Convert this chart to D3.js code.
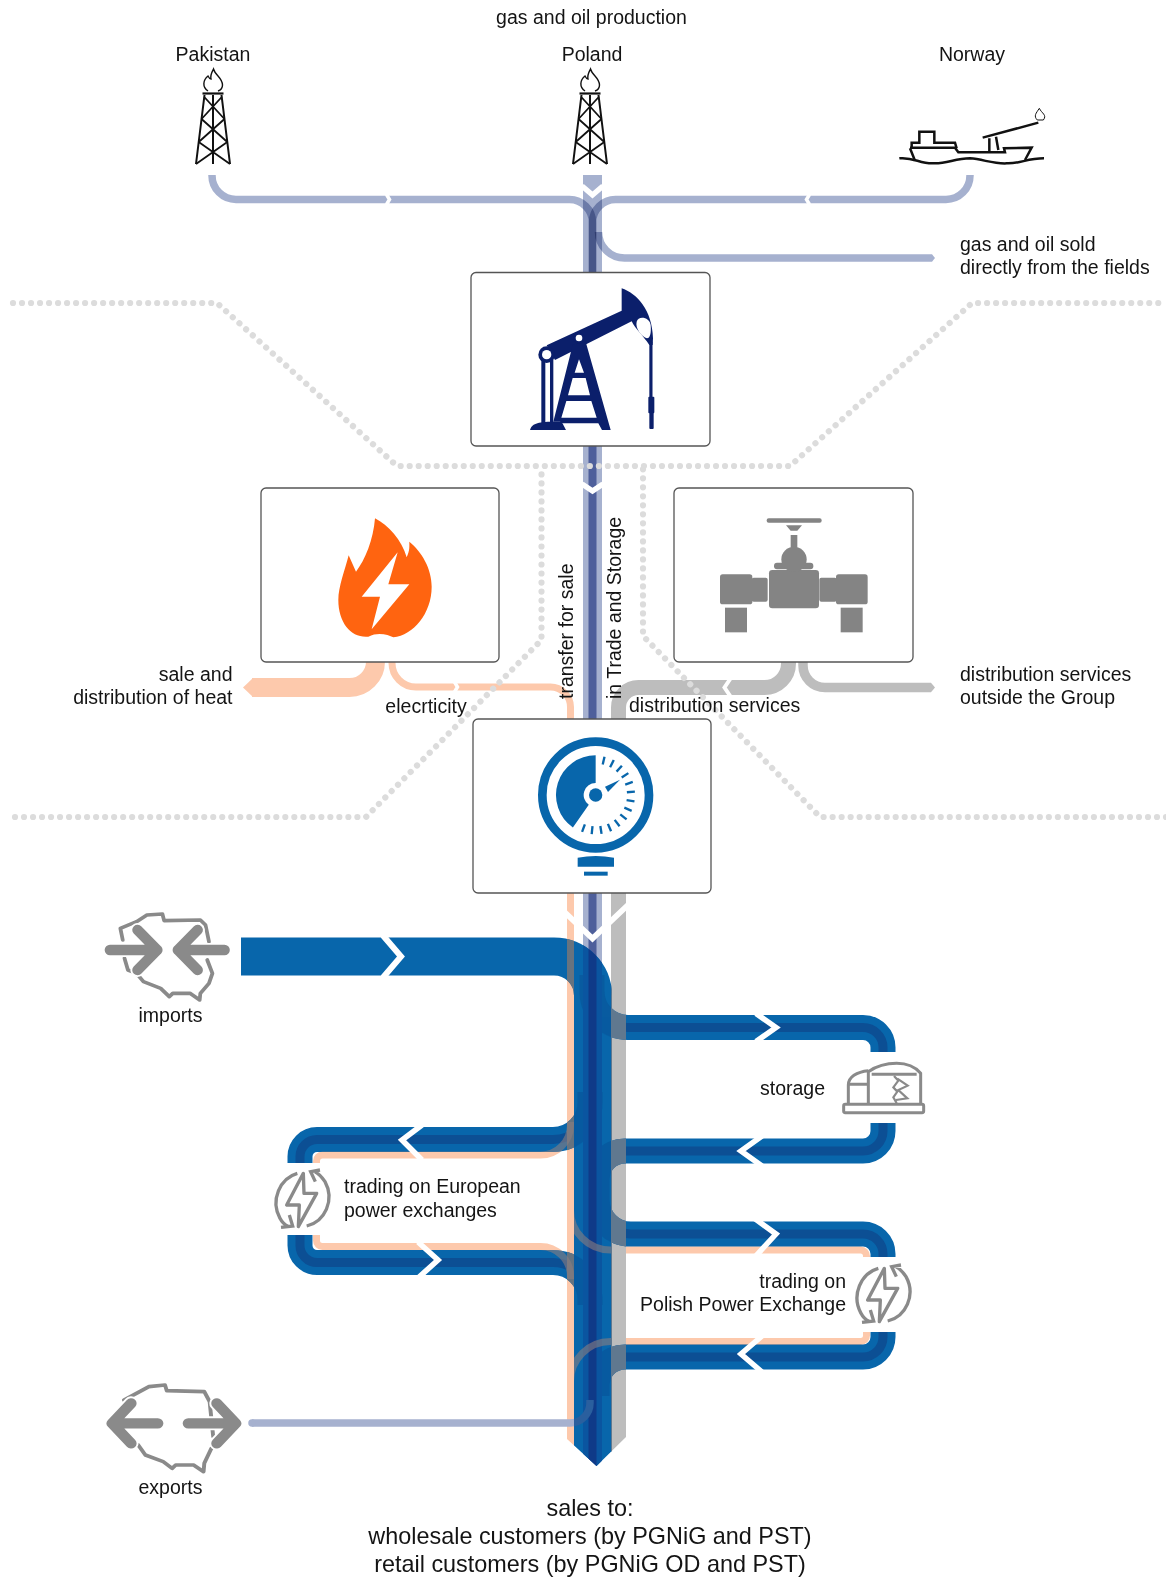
<!DOCTYPE html>
<html><head><meta charset="utf-8">
<script src="https://cdn.jsdelivr.net/npm/d3@7/dist/d3.min.js"></script>
<style>html,body{margin:0;background:#fff}svg{display:block}text{font-family:"Liberation Sans",Arial,sans-serif;fill:#141414}</style>
</head><body><svg id="c" width="1166" height="1577"></svg>
<script>
// ---------- content ----------
const headerLabel = "gas and oil production";
const sourceNames = ["Pakistan", "Poland", "Norway"];
const flowNames = ["production","soldDirect","main","mainCore","heat","electricity","distribution","distributionOut","imports","loop","loopCore","exports","transfer"];
const flowValues = [7.5, 7.5, 19, 8, 19, 7, 15, 9.5, 38, 25, 9, 7.5, 7];
const salesLines = ["sales to:", "wholesale customers (by PGNiG and PST)", "retail customers (by PGNiG OD and PST)"];
const sideLabels = ["gas and oil sold","directly from the fields","sale and","distribution of heat","elecrticity","distribution services","distribution services","outside the Group","imports","exports","storage","trading on European","power exchanges","trading on","Polish Power Exchange"];
const verticalLabels = ["transfer for sale", "in Trade and Storage"];

// ---------- palette ----------
const LAV="#a6b1cf", LAVD="#4e5f9b", PEACH="#fdc9ac", GREY="#bdbdbd", BLUE="#0866ab", BAND="#0c4f94", ICON="#8a8a8a";
const flow = new Map(d3.zip(flowNames, flowValues));
const w = d3.scaleLinear().domain([0,38]).range([0,38]);
const W = n => w(flow.get(n));

const svg = d3.select("#c"), defs = svg.append("defs");

// rounded route through corner points [x,y,r]
function route(pts){
  const p = d3.path(); p.moveTo(pts[0][0],pts[0][1]);
  for(let i=1;i<pts.length;i++){
    const a=pts[i];
    if(a[2]&&pts[i+1]) p.arcTo(a[0],a[1],pts[i+1][0],pts[i+1][1],a[2]); else p.lineTo(a[0],a[1]);
  }
  return p.toString();
}
function pipe(g,pts,width,color,extra){
  const s=g.append("path").attr("d",route(pts)).attr("fill","none").attr("stroke",color).attr("stroke-width",width);
  if(extra) Object.entries(extra).forEach(([k,v])=>s.style(k,v));
  return s;
}
const poly = d3.line();
function chevron(g,tipX,tipY,dx,dy1,dy2,sw){
  g.append("path").attr("d",poly([[tipX-dx,tipY-dy1],[tipX,tipY],[tipX-dx,tipY+(dy2==null?dy1:dy2)]]))
   .attr("fill","none").attr("stroke","#fff").attr("stroke-width",sw||5.5);
}
function vchev(g,cx,tipY,dx,dy,sw){
  g.append("path").attr("d",poly([[cx-dx,tipY-dy],[cx,tipY],[cx+dx,tipY-dy]])).attr("fill","none").attr("stroke","#fff").attr("stroke-width",sw||5.5);
}
function label(x,y,t,anchor,size){
  return svg.append("text").attr("x",x).attr("y",y).attr("text-anchor",anchor||"start").attr("font-size",size||19.5).text(t);
}

// ---------- upper flows ----------
const upper = svg.append("g").style("isolation","isolate");
const mult={"mix-blend-mode":"multiply"};
const mainX=592.5;
pipe(upper,[[mainX,175],[mainX,446]],W("main"),LAV,mult);
pipe(upper,[[212,175],[212,199.5,24],[592.5,199.5,23],[592.5,272]],W("production"),LAV,mult);
pipe(upper,[[970,175],[970,199.5,24],[592.5,199.5,23],[592.5,272]],W("production"),LAV,mult);
pipe(upper,[[598.5,232],[598.5,258,26],[926,258]],W("soldDirect"),LAV,mult);
upper.append("path").attr("d",poly([[926,254.2],[932,254.2],[935,258],[932,261.8],[926,261.8]])).attr("fill",LAV);
vchev(upper,mainX,195,10.5,9,5.5);
chevron(upper,389.5,199.5,3,5,5,3.5);
chevron(upper,806.5,199.5,-3,5,5,3.5);

// middle main
const mid = svg.append("g");
pipe(mid,[[mainX,446],[mainX,719]],W("main"),LAV);
pipe(mid,[[mainX,446],[mainX,719]],W("mainCore"),LAVD);
vchev(mid,mainX,491,10.5,7,5.5);
// heat
pipe(mid,[[375.5,662],[375.5,687.5,26],[252,687.5]],W("heat"),PEACH);
mid.append("path").attr("d",poly([[253,678],[243,687.5],[253,697]])).attr("fill",PEACH);
pipe(mid,[[392,662],[392,687,24],[570.5,687,20],[570.5,719]],W("electricity"),PEACH);
chevron(mid,457.5,687,3,5,5,3.5);
// distribution
pipe(mid,[[788.5,662],[788.5,687.5,24],[618.5,687.5,20],[618.5,719]],W("distribution"),GREY);
chevron(mid,724.5,687.5,-6,9,9,4);
pipe(mid,[[803,662],[803,687.5,22],[926,687.5]],W("distributionOut"),GREY);
mid.append("path").attr("d",poly([[926,682.8],[931,682.8],[935,687.5],[931,692.2],[926,692.2]])).attr("fill",GREY);

// ---------- lower flows ----------
const clipId="tip";
defs.append("clipPath").attr("id",clipId).append("path")
  .attr("d",poly([[0,0],[1166,0],[1166,1437],[626,1437],[596.5,1466],[567,1439],[0,1439]])+"Z");
const low = svg.append("g").attr("clip-path",`url(#${clipId})`);

const peachColumn = [[570.5,893],[570.5,1470]];
const peachRoutes = [
  [[570.5,1122],[570.5,1155,30],[316.5,1155,6],[316.5,1163]],
  [[570.5,1279],[570.5,1246.5,30],[316.5,1246.5,6],[316.5,1235]],
  [[570.5,1205],[570.5,1250,40],[866.5,1250,6],[866.5,1257]],
  [[570.5,1382],[570.5,1341.5,40],[866.5,1341.5,6],[866.5,1332]]
];
const importRoute=[[241,956.5],[593,956.5,39],[593,1470]];
const loopRoutes=[
  [[592,975],[592,1027.5,36],[883,1027.5,20],[883,1052]],
  [[883,1123],[883,1151,20],[597,1151,28],[597,1200]],
  [[597,1200],[597,1234,34],[883,1234,20],[883,1257]],
  [[883,1332],[883,1357,20],[597,1357,28],[597,1396]],
  [[590,1092],[590,1139.5,37],[300,1139.5,17],[300,1163]],
  [[300,1235],[300,1262.5,17],[590,1262.5,37],[590,1305]]
];
const greyRoute=[[618.5,893],[618.5,1470]];
const lavRoute=[[mainX,893],[mainX,1470]];
const exportRoute=[[252,1423],[590,1423,20],[590,1400]];

pipe(low,peachColumn,W("transfer"),PEACH);
peachRoutes.forEach(r=>pipe(low,r,W("transfer"),PEACH));
pipe(low,greyRoute,W("distribution"),GREY);
pipe(low,lavRoute,W("main"),LAV);
pipe(low,lavRoute,W("mainCore"),LAVD);
vchev(low,592.5,938.5,36,34,5.8);
pipe(low,exportRoute,W("exports"),LAV);

pipe(low,importRoute,W("imports"),BLUE);
loopRoutes.forEach(r=>pipe(low,r,W("loop"),BLUE));
// loop core bands stop at the trunk edges
const outer=defs.append("clipPath").attr("id","outsideTrunk");
outer.append("rect").attr("x",0).attr("y",0).attr("width",574).attr("height",1577);
outer.append("rect").attr("x",612).attr("y",0).attr("width",554).attr("height",1577);
const bands=low.append("g").attr("clip-path","url(#outsideTrunk)");
loopRoutes.forEach(r=>pipe(bands,r,W("loopCore"),BAND));

// blue mask
const m=defs.append("mask").attr("id","blueMask").attr("maskUnits","userSpaceOnUse").attr("x",0).attr("y",0).attr("width",1166).attr("height",1577);
pipe(m,importRoute,W("imports"),"#fff");
loopRoutes.forEach(r=>pipe(m,r,W("loop"),"#fff"));
const ov=low.append("g").attr("mask","url(#blueMask)");

// branches seen through the trunk
defs.append("clipPath").attr("id","trunk").append("rect").attr("x",574).attr("y",960).attr("width",38).attr("height",520);
const through=ov.append("g").attr("clip-path","url(#trunk)").attr("opacity",.28);
loopRoutes.forEach(r=>pipe(through,r,W("loop"),"#0a3f86"));

// lavender and others seen through the blue
pipe(ov,lavRoute,W("main"),"#0a55a0");
pipe(ov,lavRoute,W("mainCore"),"#0f3a88");
pipe(ov,exportRoute,W("exports"),"#2a5f9e");
pipe(ov,peachColumn,W("transfer"),"#67737f");
const peachThrough=ov.append("g").attr("opacity",.6);
peachRoutes.forEach(r=>pipe(peachThrough,r,W("transfer"),"#8a7d80"));
pipe(ov,greyRoute,W("distribution"),"#60788f");

// chevrons
chevron(low,401,956.5,18,21,21,6);
chevron(low,776,1027.5,20,14,14,5.5);
chevron(low,741,1151,-21,15,15,5.5);
chevron(low,776,1234,22,16,24,5.5);
chevron(low,741,1354,-21,18,18,5.5);
chevron(low,402,1140,-20,15,20,5.5);
chevron(low,438,1260,20,18,18,5.5);
svg.append("circle").attr("cx",252).attr("cy",1423).attr("r",W("exports")/2).attr("fill",LAV);

// ---------- dotted separators ----------
const dotted=[
 [[13,303],[217,303],[397,466],[790,466],[972,303],[1166,303]],
 [[15,817],[366,817],[541.5,640],[541.5,466]],
 [[1166,817],[820,817],[643,636],[643,466]]
];
dotted.forEach(d=>svg.append("path").attr("d",poly(d)).attr("fill","none").attr("stroke","#dcdcdc")
  .attr("stroke-width",6.2).attr("stroke-linecap","round").attr("stroke-dasharray","0.01 9"));

// ---------- boxes ----------
[[471,272.5,239,173.5],[261,488,238,174],[674,488,239,174],[473,719,238,174]].forEach(b=>
  svg.append("rect").attr("x",b[0]).attr("y",b[1]).attr("width",b[2]).attr("height",b[3]).attr("rx",5)
    .attr("fill","#fff").attr("stroke","#555").attr("stroke-width",1.3));

// ---------- icons (drawn in a zoomed local frame) ----------
function frame(x,y,sx,sy){return svg.append("g").attr("transform",`translate(${x},${y}) scale(${sx},${sy||sx})`);}
const third=1/3;

// derricks
function derrick(cx){
  const g=svg.append("g").attr("fill","none").attr("stroke","#111").attr("stroke-width",2);
  const base=164,tp=95,hb=17,ht=8.5;
  const lx=y=>hb+(ht-hb)*(base-y)/(base-tp);
  g.append("path").attr("d",`M${cx-hb} ${base}L${cx-ht} ${tp}M${cx+hb} ${base}L${cx+ht} ${tp}M${cx} ${tp}V${base}`);
  g.append("path").attr("d",`M${cx-10.5} 93.5H${cx+10.5}`).attr("stroke-width",2.2);
  const lv=[97,119,142,164];
  for(let i=0;i<3;i++){
    g.append("path").attr("d",`M${cx-lx(lv[i])} ${lv[i]}L${cx+lx(lv[i+1])} ${lv[i+1]}M${cx+lx(lv[i])} ${lv[i]}L${cx-lx(lv[i+1])} ${lv[i+1]}`).attr("stroke-width",1.8);
  }
  g.append("path").attr("stroke-width",1.4).attr("d",`M${cx-5} 91C${cx-11} 87 ${cx-10} 80 ${cx-5} 76C${cx-4} 78 ${cx-3} 79 ${cx-2} 79C${cx-3} 75 ${cx-1} 72 ${cx+0.5} 69C${cx+2} 75 ${cx+9.5} 78 ${cx+9.5} 85C${cx+9.5} 88 ${cx+8} 90 ${cx+5} 91`);
}
derrick(213); derrick(590);

// ship
const sh=frame(650,40,third).attr("fill","none").attr("stroke","#111").attr("stroke-width",7.5);
sh.append("path").attr("d","M748 355C790 350 810 372 850 370C890 372 915 355 960 355C1000 358 1030 372 1070 370C1110 372 1130 355 1182 355");
sh.append("path").attr("d","M780 325L795 362M780 323H915L925 337H1065L1062 325L1145 323L1125 360");
sh.append("path").attr("d","M785 322V308H808V275H853V308H915L920 325");
sh.append("path").attr("d","M998 293L1165 248M1018 295V335M1038 290L1045 330");
sh.append("path").attr("stroke-width",3).attr("d","M1162 240C1150 228 1158 220 1168 205C1175 220 1192 225 1180 240Z");

// pump jack
const pj=frame(520,280,third).attr("fill","#0b1f6b");
pj.append("path").attr("d","M80 196L305 92L305 25C350 40 397 90 399 175L398 195L388 195C370 168 345 145 335 124L105 240Z");
pj.append("path").attr("fill","#fff").attr("d","M350 125C355 105 390 112 392 135C394 160 390 175 381 175C365 170 345 145 350 125Z");
pj.append("rect").attr("x",388).attr("y",185).attr("width",9.5).attr("height",170);
pj.append("rect").attr("x",385).attr("y",350).attr("width",18).attr("height",50).attr("rx",3);
pj.append("rect").attr("x",388).attr("y",395).attr("width",13).attr("height",52).attr("rx",3);
pj.append("rect").attr("x",64).attr("y",235).attr("width",12).attr("height",195);
pj.append("rect").attr("x",90).attr("y",235).attr("width",10).attr("height",195);
pj.append("path").attr("d","M158 195L197 185L272 450H246L235 430H128L120 425L100 425Z");
pj.append("path").attr("d","M30 450C35 432 50 425 100 425H125L138 450Z");
pj.append("path").attr("fill","#fff").attr("d","M177 238L192 278H164ZM158 294H197L210 346H144ZM139 363H214L230 413H124Z");
pj.append("circle").attr("cx",80).attr("cy",224).attr("r",25);
pj.append("circle").attr("cx",80).attr("cy",224).attr("r",14).attr("fill","#fff");
pj.append("circle").attr("cx",177).attr("cy",174).attr("r",17);
pj.append("circle").attr("cx",177).attr("cy",174).attr("r",10).attr("fill","#fff");

// flame
const fl=frame(230,450,third);
fl.append("path").attr("fill","#ff6410").attr("d","M415 560C365 565 325 520 325 450C325 410 345 360 356 316L378 365C405 330 430 270 435 205C475 225 515 270 530 322C540 300 538 290 538 275C575 305 605 355 605 410C605 490 550 555 490 562C475 555 445 545 415 560Z");
fl.append("path").attr("fill","#fff").attr("d","M503 307L395 440H450L425 538L538 403H475Z");

// valve
const va=frame(550,450,third).attr("fill","#848484");
[[650,205,165,13,6],[722,255,20,38,0],[657,360,150,115,10],[605,383,48,72,6],[808,383,52,72,6],[510,373,97,90,8],[858,373,95,90,8],[525,473,66,74,0],[872,473,66,74,0],[672,338,118,20,9]].forEach(r=>
  va.append("rect").attr("x",r[0]).attr("y",r[1]).attr("width",r[2]).attr("height",r[3]).attr("rx",r[4]));
va.append("path").attr("d","M708 226H756L742 242H722Z");
va.append("circle").attr("cx",732).attr("cy",328).attr("r",38);

// gauge
const ga=frame(450,710,third).attr("fill","#0866ab");
const gc=[437,255];
ga.append("circle").attr("cx",gc[0]).attr("cy",gc[1]).attr("r",160).attr("fill","none").attr("stroke","#0866ab").attr("stroke-width",26);
const gaugeArc=d3.arc().innerRadius(36).outerRadius(119).startAngle(-2.53).endAngle(0);
ga.append("path").attr("transform",`translate(${gc})`).attr("d",gaugeArc());
ga.append("circle").attr("cx",gc[0]).attr("cy",gc[1]).attr("r",20);
d3.range(14).forEach(i=>{
  const a=(13+i*14.4)*Math.PI/180, s=Math.sin(a), c=-Math.cos(a);
  ga.append("line").attr("x1",gc[0]+s*94).attr("y1",gc[1]+c*94).attr("x2",gc[0]+s*118).attr("y2",gc[1]+c*118).attr("stroke","#0866ab").attr("stroke-width",7);
});
ga.append("path").attr("d","M465 230L510 209L474 246Z");
ga.append("path").attr("d","M383 443Q437 433 492 443V470H383Z");
ga.append("rect").attr("x",402).attr("y",485).attr("width",71).attr("height",12);

// storage tank
const st=frame(540,990,third).attr("fill","none").attr("stroke",ICON).attr("stroke-width",9);
st.append("rect").attr("x",911).attr("y",343).attr("width",240).attr("height",25).attr("rx",5);
st.append("path").attr("d","M925 342V285C925 262 950 245 985 242M925 283H985M985 342V245C1010 228 1040 220 1070 220C1100 220 1125 230 1142 250V342M995 253H1130");
st.append("path").attr("stroke-width",6.5).attr("d","M1062 258L1075 272L1060 292L1072 305L1060 322L1070 340M1072 266L1103 287L1075 300L1102 325L1068 330");

// power exchange icons
function powerIcon(dx,dy){
  const g=frame(260+dx,1110+dy,third).attr("fill","none").attr("stroke",ICON).attr("stroke-width",10);
  g.append("path").attr("stroke-linejoin","round").attr("d","M130 190L80 285H118L115 350L170 250H132Z");
  g.append("path").attr("d","M112 190C60 205 30 270 60 325C65 335 75 345 85 350M63 352L98 348L88 315");
  g.append("path").attr("d","M140 348C195 335 225 270 195 215C185 200 175 190 165 185M180 180L152 185L166 215");
}
powerIcon(0,0); powerIcon(581,95);

// Poland with arrows
function arrowsMap(x,y,sx,sy,outline,arrows){
  const g=frame(x,y,sx,sy).attr("fill","none").attr("stroke-linecap","round").attr("stroke-linejoin","round");
  g.append("path").attr("d",outline).attr("stroke",ICON).attr("stroke-width",11);
  arrows.forEach(a=>g.append("path").attr("d",a).attr("stroke","#fff").attr("stroke-width",42));
  arrows.forEach(a=>g.append("path").attr("d",a).attr("stroke",ICON).attr("stroke-width",31));
}
arrowsMap(90,890,1/2.9,third,"M95 150L88 115L135 95L165 75L210 72L215 92L320 90L335 105L345 155M340 210L355 250L345 280L320 310L318 330L290 310L240 310L230 320L205 295L155 275L135 250L110 240L100 205",
  ["M58 180H195M138 120L195 180L138 240","M390 180H255M312 120L255 180L312 240"]);
arrowsMap(90,1360,1/2.8,third,"M95 120L130 100L165 80L210 75L215 92L320 95L335 125L345 230M340 265L320 310L318 335L290 315L240 315L230 325L205 305L155 285L135 255",
  ["M190 190H62M115 130L62 190L115 250","M275 190H408M355 130L408 190L355 250"]);

// ---------- text ----------
label(591.5,23.5,headerLabel,"middle");
[213,592,972].forEach((x,i)=>label(x,60.7,sourceNames[i],"middle"));
label(960,250.7,sideLabels[0]); label(960,274.3,sideLabels[1]);
label(232.5,681,sideLabels[2],"end"); label(232.5,704,sideLabels[3],"end");
label(426,713,sideLabels[4],"middle");
label(629,712,sideLabels[5]);
label(960,681,sideLabels[6]); label(960,704,sideLabels[7]);
label(170.5,1022,sideLabels[8],"middle");
label(170.5,1494,sideLabels[9],"middle");
label(760,1095,sideLabels[10]);
label(344,1193,sideLabels[11]); label(344,1216.7,sideLabels[12]);
label(846,1288,sideLabels[13],"end"); label(846,1311,sideLabels[14],"end");
[[572.7,699],[620.5,699]].forEach((p,i)=>svg.append("text").attr("transform",`translate(${p[0]},${p[1]}) rotate(-90)`).attr("font-size",19.5).text(verticalLabels[i]));
[1516,1544,1572].forEach((y,i)=>label(590,y,salesLines[i],"middle",23.4));
</script></body></html>
